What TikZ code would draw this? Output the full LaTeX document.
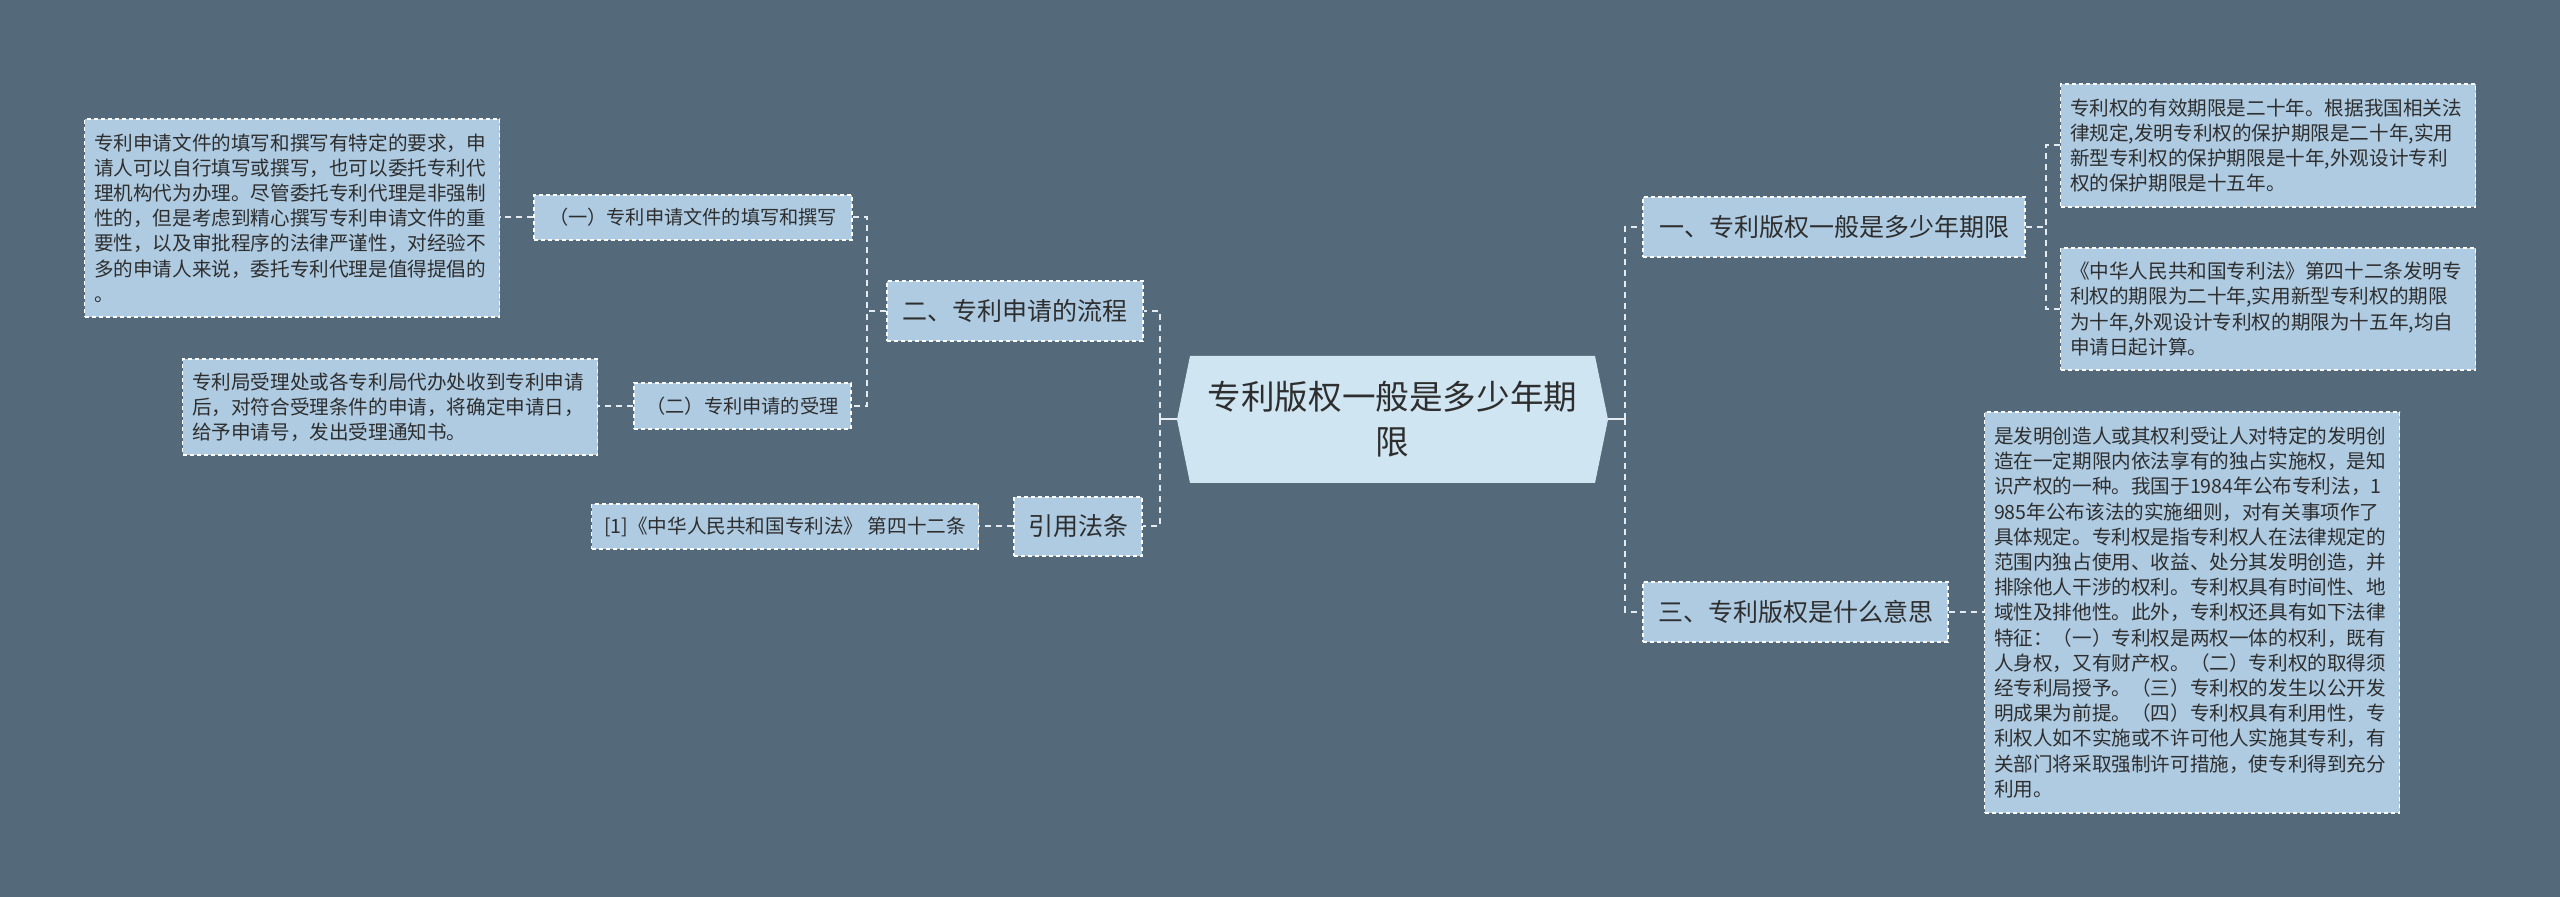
\documentclass[tikz,border=0pt]{standalone}
\usepackage{fontspec}
\setmainfont{Noto Sans CJK SC}
\usepackage{tikz}
\usepackage{xcolor}

\definecolor{bgslate}{HTML}{546A7A}
\definecolor{boxfill}{HTML}{AECBE2}
\definecolor{rootfill}{HTML}{D0E5F2}
\definecolor{linecol}{HTML}{E4ECF2}
\definecolor{textcol}{HTML}{2E2E2E}

\begin{document}
\begin{tikzpicture}[x=0.5pt, y=-0.5pt,
  box/.style={draw=white, fill=boxfill, line width=0.7pt, dash pattern=on 2pt off 1.5pt, text=textcol, inner sep=0pt},
  branch/.style={box, minimum height=30pt, font=\fontsize{12.5pt}{15pt}\selectfont},
  sub/.style={box, font=\fontsize{9.6pt}{12pt}\selectfont},
  note/.style={box, font=\fontsize{9.8pt}{12.6pt}\selectfont, text width=198pt, align=left, minimum width=207.5pt, inner xsep=4.75pt},
  stem/.style={draw=linecol, line width=1pt},
  link/.style={draw=linecol, line width=1pt, dash pattern=on 3pt off 2.5pt}]
  \fill[bgslate] (0,0) rectangle (2560,897);

  % centre
  \coordinate (rc) at (1392.5,419.5);
  \fill[rootfill, shift={(rc)}] (-215.5,0) -- (-202.5,-63.5) -- (202.5,-63.5) -- (215.5,0) -- (202.5,63.5) -- (-202.5,63.5) -- cycle;
  \node[text=textcol, minimum width=215.5pt, minimum height=63.5pt, inner sep=0pt, align=center,
        font=\fontsize{16.8pt}{22.5pt}\selectfont] (root) at (rc) {专利版权一般是多少年期\\限};

  % left side
  \node[branch, minimum width=128pt] (flow) at (1015,311) {二、专利申请的流程};
  \node[branch, minimum width=64pt, minimum height=29.5pt] (cite) at (1078,526.5) {引用法条};
  \node[sub, minimum width=159pt, minimum height=22.5pt] (sub1) at (693,217.5) {（一）专利申请文件的填写和撰写};
  \node[sub, minimum width=108.5pt, minimum height=23pt] (sub2) at (742.5,406) {（二）专利申请的受理};
  \node[note, minimum height=99pt] (note1) at (292,218) {专利申请文件的填写和撰写有特定的要求，申\\请人可以自行填写或撰写，也可以委托专利代\\理机构代为办理。尽管委托专利代理是非强制\\性的，但是考虑到精心撰写专利申请文件的重\\要性，以及审批程序的法律严谨性，对经验不\\多的申请人来说，委托专利代理是值得提倡的\\。};
  \node[note, minimum height=48pt] (note2) at (390,407) {专利局受理处或各专利局代办处收到专利申请\\后，对符合受理条件的申请，将确定申请日，\\给予申请号，发出受理通知书。};
  \node[sub, font=\fontsize{9.8pt}{12pt}\selectfont, minimum width=193.5pt, minimum height=22.5pt] (law) at (785,526.5) {[1]《中华人民共和国专利法》 第四十二条};

  % right side
  \node[branch, minimum width=191pt] (term) at (1834,227) {一、专利版权一般是多少年期限};
  \node[branch, minimum width=152.5pt] (meaning) at (1795.5,612) {三、专利版权是什么意思};
  \node[note, minimum height=61.5pt] (note3) at (2268,145.5) {专利权的有效期限是二十年。根据我国相关法\\律规定,发明专利权的保护期限是二十年,实用\\新型专利权的保护期限是十年,外观设计专利\\权的保护期限是十五年。};
  \node[note, minimum height=61pt] (note4) at (2268,309) {《中华人民共和国专利法》第四十二条发明专\\利权的期限为二十年,实用新型专利权的期限\\为十年,外观设计专利权的期限为十五年,均自\\申请日起计算。};
  \node[note, minimum height=200.5pt] (note5) at (2192,612.5) {是发明创造人或其权利受让人对特定的发明创\\造在一定期限内依法享有的独占实施权，是知\\识产权的一种。我国于1984年公布专利法，1\\985年公布该法的实施细则，对有关事项作了\\具体规定。专利权是指专利权人在法律规定的\\范围内独占使用、收益、处分其发明创造，并\\排除他人干涉的权利。专利权具有时间性、地\\域性及排他性。此外，专利权还具有如下法律\\特征：（一）专利权是两权一体的权利，既有\\人身权，又有财产权。（二）专利权的取得须\\经专利局授予。（三）专利权的发生以公开发\\明成果为前提。（四）专利权具有利用性，专\\利权人如不实施或不许可他人实施其专利，有\\关部门将采取强制许可措施，使专利得到充分\\利用。};

  % links
  \draw[stem] (root.west) -- ++(-17,0) coordinate (lhub);
  \draw[stem] (root.east) -- ++(17,0) coordinate (rhub);
  \draw[link] (lhub) |- (flow.east);
  \draw[link] (lhub) |- (cite.east);
  \draw[link] (flow.west) -- ++(-19,0) |- (sub1.east);
  \draw[link] (flow.west) -- ++(-19,0) |- (sub2.east);
  \draw[link] (sub1.west) -- (sub1.west -| note1.east);
  \draw[link] (sub2.west) -- (sub2.west -| note2.east);
  \draw[link] (cite.west) -- (cite.west -| law.east);
  \draw[link] (rhub) |- (term.west);
  \draw[link] (rhub) |- (meaning.west);
  \draw[link] (term.east) -- ++(20,0) |- (note3.west);
  \draw[link] (term.east) -- ++(20,0) |- (note4.west);
  \draw[link] (meaning.east) -- (meaning.east -| note5.west);
\end{tikzpicture}
\end{document}
